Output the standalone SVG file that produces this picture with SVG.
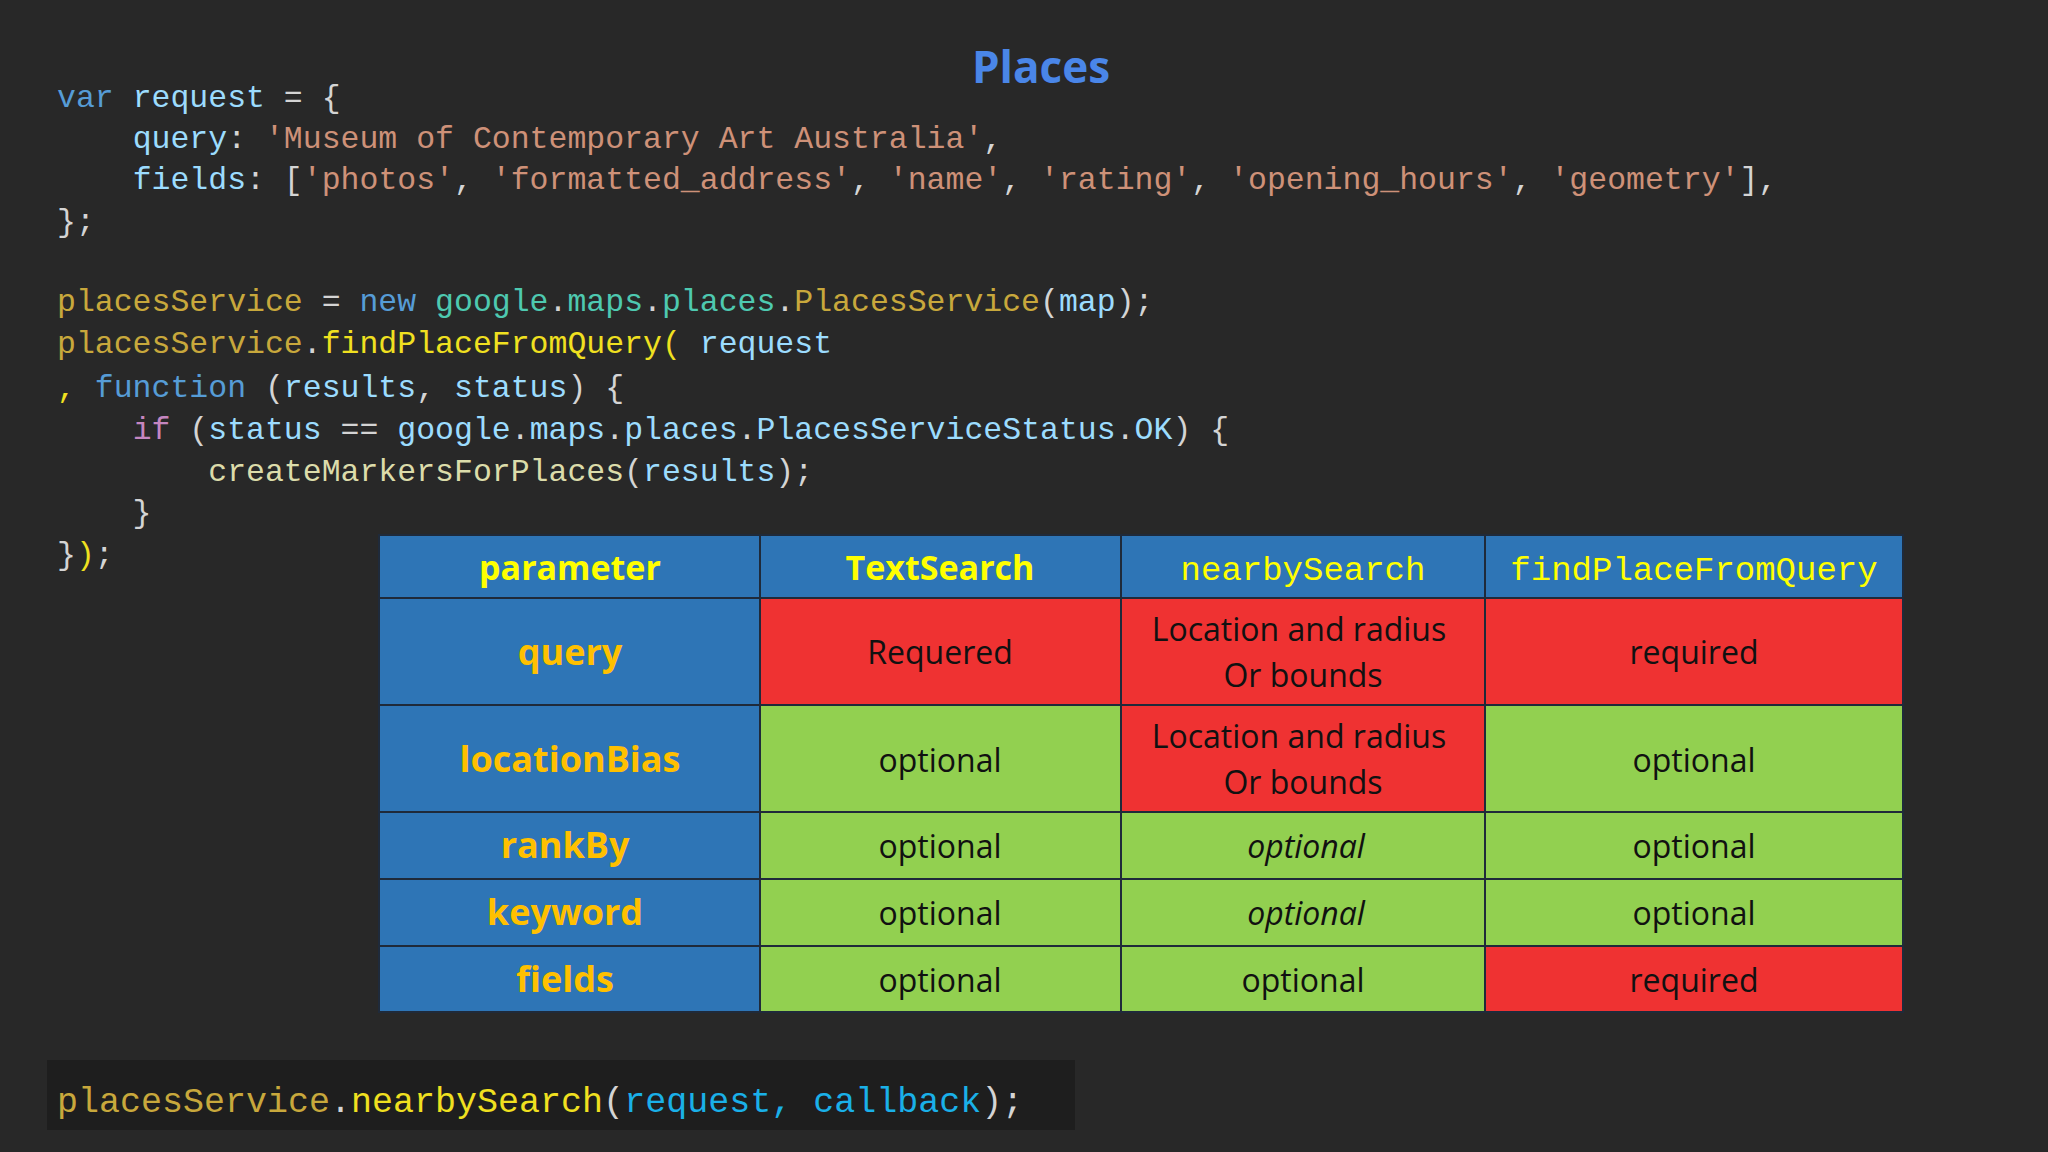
<svg xmlns="http://www.w3.org/2000/svg" width="2048" height="1152" viewBox="0 0 2048 1152">
<style>
.c{font-family:"Liberation Mono","DejaVu Sans Mono",monospace;font-size:31.5px;fill:#d4d4d4;white-space:pre}
.k{fill:#569cd6}.v{fill:#9cdcfe}.s{fill:#ce9178}.g{fill:#c8a83c}.t{fill:#4ec9b0}.y{fill:#f0e020}.f{fill:#dcdcaa}.p{fill:#c586c0}.w{fill:#d4d4d4}.cy{fill:#1ab0e8}
.h{font-family:"Open Sans","Noto Sans",sans-serif;font-weight:bold;font-size:34px;fill:#ffff00;text-anchor:middle}
.hm{font-family:"Liberation Mono",monospace;font-size:34px;fill:#ffff00;text-anchor:middle}
.r{font-family:"Open Sans","Noto Sans",sans-serif;font-weight:bold;font-size:36px;fill:#ffc000;text-anchor:middle}
.x{font-family:"Open Sans","Noto Sans",sans-serif;font-size:32px;fill:#111;text-anchor:middle}
.B{fill:#2e75b6;stroke:#1f2a3a;stroke-width:2}.R{fill:#ef3232;stroke:#1f2a3a;stroke-width:2}.G{fill:#92d050;stroke:#1f2a3a;stroke-width:2}
</style>
<rect width="2048" height="1152" fill="#282828"/>
<text x="1041" y="83" text-anchor="middle" font-family="Open Sans,Noto Sans,sans-serif" font-weight="bold" font-size="44" fill="#4a86e8">Places</text>
<g id="code" xml:space="preserve">
<text class="c" x="57" y="107"><tspan class="k">var</tspan> <tspan class="v">request</tspan> = {</text>
<text class="c" x="57" y="148">    <tspan class="v">query</tspan>: <tspan class="s">'Museum of Contemporary Art Australia'</tspan>,</text>
<text class="c" x="57" y="189">    <tspan class="v">fields</tspan>: [<tspan class="s">'photos'</tspan>, <tspan class="s">'formatted_address'</tspan>, <tspan class="s">'name'</tspan>, <tspan class="s">'rating'</tspan>, <tspan class="s">'opening_hours'</tspan>, <tspan class="s">'geometry'</tspan>],</text>
<text class="c" x="57" y="231">};</text>
<text class="c" x="57" y="311"><tspan class="g">placesService</tspan> = <tspan class="k">new</tspan> <tspan class="t">google</tspan>.<tspan class="t">maps</tspan>.<tspan class="t">places</tspan>.<tspan class="g">PlacesService</tspan>(<tspan class="v">map</tspan>);</text>
<text class="c" x="57" y="353"><tspan class="g">placesService</tspan>.<tspan class="y">findPlaceFromQuery(</tspan> <tspan class="v">request</tspan></text>
<text class="c" x="57" y="397"><tspan class="y">,</tspan> <tspan class="k">function</tspan> (<tspan class="v">results</tspan>, <tspan class="v">status</tspan>) {</text>
<text class="c" x="57" y="439">    <tspan class="p">if</tspan> (<tspan class="v">status</tspan> == <tspan class="v">google</tspan>.<tspan class="v">maps</tspan>.<tspan class="v">places</tspan>.<tspan class="v">PlacesServiceStatus</tspan>.<tspan class="v">OK</tspan>) {</text>
<text class="c" x="57" y="481">        <tspan class="f">createMarkersForPlaces</tspan>(<tspan class="v">results</tspan>);</text>
<text class="c" x="57" y="522">    }</text>
<text class="c" x="57" y="564">}<tspan class="y">)</tspan>;</text>
</g>
<g id="table">
<rect class="B" x="379" y="535" width="381" height="63"/><rect class="B" x="760" y="535" width="361" height="63"/><rect class="B" x="1121" y="535" width="364" height="63"/><rect class="B" x="1485" y="535" width="418" height="63"/>
<text class="h" x="570" y="580">parameter</text><text class="h" x="940" y="580">TextSearch</text><text class="hm" x="1303" y="580">nearbySearch</text><text class="hm" x="1694" y="580">findPlaceFromQuery</text>
<rect class="B" x="379" y="598" width="381" height="107"/><rect class="R" x="760" y="598" width="361" height="107"/><rect class="R" x="1121" y="598" width="364" height="107"/><rect class="R" x="1485" y="598" width="418" height="107"/>
<text class="r" x="570" y="665">query</text><text class="x" x="940" y="664">Requered</text><text class="x" x="1299" y="641">Location and radius</text><text class="x" x="1303" y="687">Or bounds</text><text class="x" x="1694" y="664">required</text>
<rect class="B" x="379" y="705" width="381" height="107"/><rect class="G" x="760" y="705" width="361" height="107"/><rect class="R" x="1121" y="705" width="364" height="107"/><rect class="G" x="1485" y="705" width="418" height="107"/>
<text class="r" x="570" y="772">locationBias</text><text class="x" x="940" y="772">optional</text><text class="x" x="1299" y="748">Location and radius</text><text class="x" x="1303" y="794">Or bounds</text><text class="x" x="1694" y="772">optional</text>
<rect class="B" x="379" y="812" width="381" height="67"/><rect class="G" x="760" y="812" width="361" height="67"/><rect class="G" x="1121" y="812" width="364" height="67"/><rect class="G" x="1485" y="812" width="418" height="67"/>
<text class="r" x="565" y="858">rankBy</text><text class="x" x="940" y="858">optional</text><text class="x" x="1306" y="858" font-style="italic">optional</text><text class="x" x="1694" y="858">optional</text>
<rect class="B" x="379" y="879" width="381" height="67"/><rect class="G" x="760" y="879" width="361" height="67"/><rect class="G" x="1121" y="879" width="364" height="67"/><rect class="G" x="1485" y="879" width="418" height="67"/>
<text class="r" x="565" y="925">keyword</text><text class="x" x="940" y="925">optional</text><text class="x" x="1306" y="925" font-style="italic">optional</text><text class="x" x="1694" y="925">optional</text>
<rect class="B" x="379" y="946" width="381" height="66"/><rect class="G" x="760" y="946" width="361" height="66"/><rect class="G" x="1121" y="946" width="364" height="66"/><rect class="R" x="1485" y="946" width="418" height="66"/>
<text class="r" x="565" y="992">fields</text><text class="x" x="940" y="992">optional</text><text class="x" x="1303" y="992">optional</text><text class="x" x="1694" y="992">required</text>
</g>
<g id="bottom">
<rect x="47" y="1060" width="1028" height="70" fill="#1e1e1e"/>
<text class="c" x="57" y="1112" style="font-size:35px"><tspan class="g">placesService</tspan>.<tspan class="y">nearbySearch</tspan>(<tspan class="cy">request, callback</tspan>);</text>
</g>
</svg>
